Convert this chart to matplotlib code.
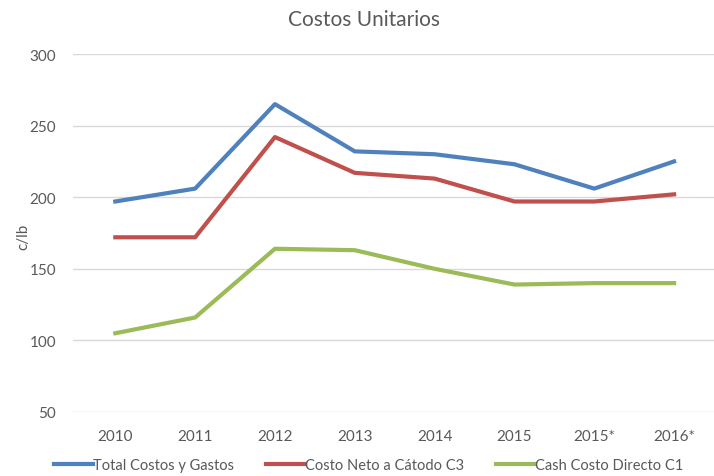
import matplotlib.pyplot as plt
import numpy as np

plt.rcParams['font.family'] = ['Lato', 'DejaVu Sans']

# data
years = ["2010", "2011", "2012", "2013", "2014", "2015", "2015*", "2016*"]
total_costos = [197, 206, 265, 232, 230, 223, 206, 225]
costo_neto = [172, 172, 242, 217, 213, 197, 197, 202]
cash_costo = [105, 116, 164, 163, 150, 139, 140, 140]

blue = "#4F81BD"
red = "#C0504D"
green = "#9BBB59"
gray = "#595959"

fig = plt.figure(figsize=(7.14, 4.77), dpi=100)
ax = fig.add_axes([73/714, 1-413/477, 1-73/714, (413-55)/477])

x = np.arange(len(years))
ax.plot(x, total_costos, color=blue, lw=3, label="Total Costos y Gastos")
ax.plot(x, costo_neto, color=red, lw=3, label="Costo Neto a Cátodo C3")
ax.plot(x, cash_costo, color=green, lw=3, label="Cash Costo Directo C1")

ax.set_ylim(50, 300)
ax.set_yticks(range(50, 301, 50))
ax.set_xlim(-0.53, 7.5)
ax.set_xticks(x)
ax.set_xticklabels(years)
ax.grid(axis="y", color="#D9D9D9", lw=1)
ax.set_axisbelow(True)
for s in ax.spines.values():
    s.set_visible(False)
ax.tick_params(length=0, colors=gray, labelsize=11)
ax.tick_params(axis="x", pad=12)
ax.tick_params(axis="y", pad=12)

fig.text(23/714, 1-237/477, "c/lb", rotation=90, ha="center", va="center",
         color=gray, fontsize=11)
fig.text(364/714, 1-20/477, "Costos Unitarios", ha="center", va="center",
         color=gray, fontsize=15)

fig.legend(loc="center", bbox_to_anchor=(369/714, 1-466/477), ncol=3,
           frameon=False, handlelength=2.67, handletextpad=0.0,
           columnspacing=2.2, fontsize=10.5, labelcolor=gray)

plt.savefig("out.png", dpi=100)
